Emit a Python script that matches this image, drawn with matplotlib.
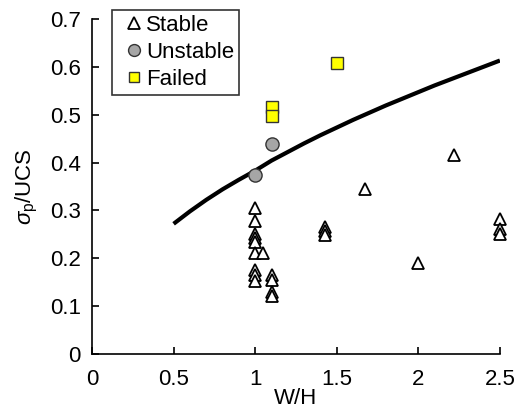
import matplotlib
matplotlib.use("Agg")
import matplotlib.pyplot as plt
import numpy as np

plt.rcParams['font.family'] = ['Liberation Sans', 'DejaVu Sans']
plt.rcParams['mathtext.fontset'] = 'custom'
plt.rcParams['mathtext.rm'] = 'Liberation Sans'
plt.rcParams['mathtext.it'] = 'Liberation Sans:italic'
plt.rcParams['mathtext.sf'] = 'Liberation Sans'

stable_x = [1.0, 1.0, 1.0, 1.0, 1.0, 1.0, 1.0, 1.0, 1.0, 1.05, 1.1, 1.1, 1.1, 1.1,
            1.43, 1.43, 1.43, 1.67, 2.0, 2.22, 2.5, 2.5, 2.5]
stable_y = [0.305, 0.278, 0.25, 0.243, 0.235, 0.21, 0.175, 0.165, 0.152, 0.21, 0.165, 0.155, 0.13, 0.122,
            0.265, 0.257, 0.248, 0.345, 0.19, 0.415, 0.282, 0.262, 0.25]
unstable_x = [1.0, 1.1]
unstable_y = [0.373, 0.438]
failed_x = [1.1, 1.1, 1.5]
failed_y = [0.516, 0.497, 0.608]
curve_x = [0.5, 0.6, 0.7, 0.8, 0.9, 1.0, 1.1, 1.2, 1.3, 1.4, 1.5, 1.6, 1.7, 1.8, 1.9, 2.0,
           2.1, 2.2, 2.3, 2.4, 2.5]
curve_y = [0.272, 0.298, 0.322, 0.344, 0.364, 0.383, 0.404, 0.422, 0.440, 0.457, 0.473, 0.489,
           0.504, 0.519, 0.533, 0.547, 0.561, 0.574, 0.587, 0.600, 0.613]

fig = plt.figure(figsize=(5.17, 4.19), dpi=100)
ax = fig.add_axes([0.178, 0.155, 0.789, 0.8])

ax.plot(curve_x, curve_y, color='black', lw=3.0, zorder=2, solid_capstyle='butt')
ax.plot(stable_x, stable_y, linestyle='none', marker='^', markersize=9,
        markerfacecolor='white', markeredgecolor='black', markeredgewidth=1.3, label='Stable',
        zorder=3, clip_on=False)
ax.plot(unstable_x, unstable_y, linestyle='none', marker='o', markersize=9.5,
        markerfacecolor='#a6a6a6', markeredgecolor='#333333', markeredgewidth=1.0, label='Unstable',
        zorder=3, clip_on=False)
ax.plot(failed_x, failed_y, linestyle='none', marker='s', markersize=8.5,
        markerfacecolor='#ffff00', markeredgecolor='#333333', markeredgewidth=1.0, label='Failed',
        zorder=3, clip_on=False)

ax.set_xlim(0, 2.5)
ax.set_ylim(0, 0.7)
ax.set_xticks([0, 0.5, 1, 1.5, 2, 2.5])
ax.set_xticklabels(['0', '0.5', '1', '1.5', '2', '2.5'])
ax.set_yticks(np.arange(0, 0.71, 0.1))
ax.set_yticklabels(['0', '0.1', '0.2', '0.3', '0.4', '0.5', '0.6', '0.7'])
ax.tick_params(direction='in', labelsize=16, length=5, width=1.2)
ax.tick_params(axis='x', pad=11)
ax.tick_params(axis='y', pad=8)
for s in ['top', 'right']:
    ax.spines[s].set_visible(False)
for s in ['left', 'bottom']:
    ax.spines[s].set_linewidth(1.2)

ax.set_xlabel('W/H', fontsize=16, labelpad=-2)
ax.set_ylabel(r'$\sigma_{\mathrm{p}}$/UCS', fontsize=16, labelpad=7)

leg = ax.legend(loc='upper left', bbox_to_anchor=(0.049, 1.027), fontsize=16, frameon=True,
                fancybox=False, edgecolor='black', handlelength=1.5, handletextpad=-0.2,
                borderpad=0.22, labelspacing=0.28, borderaxespad=0, markerscale=0.9)
leg.get_frame().set_linewidth(1.2)

fig.savefig('out.png', dpi=100)
